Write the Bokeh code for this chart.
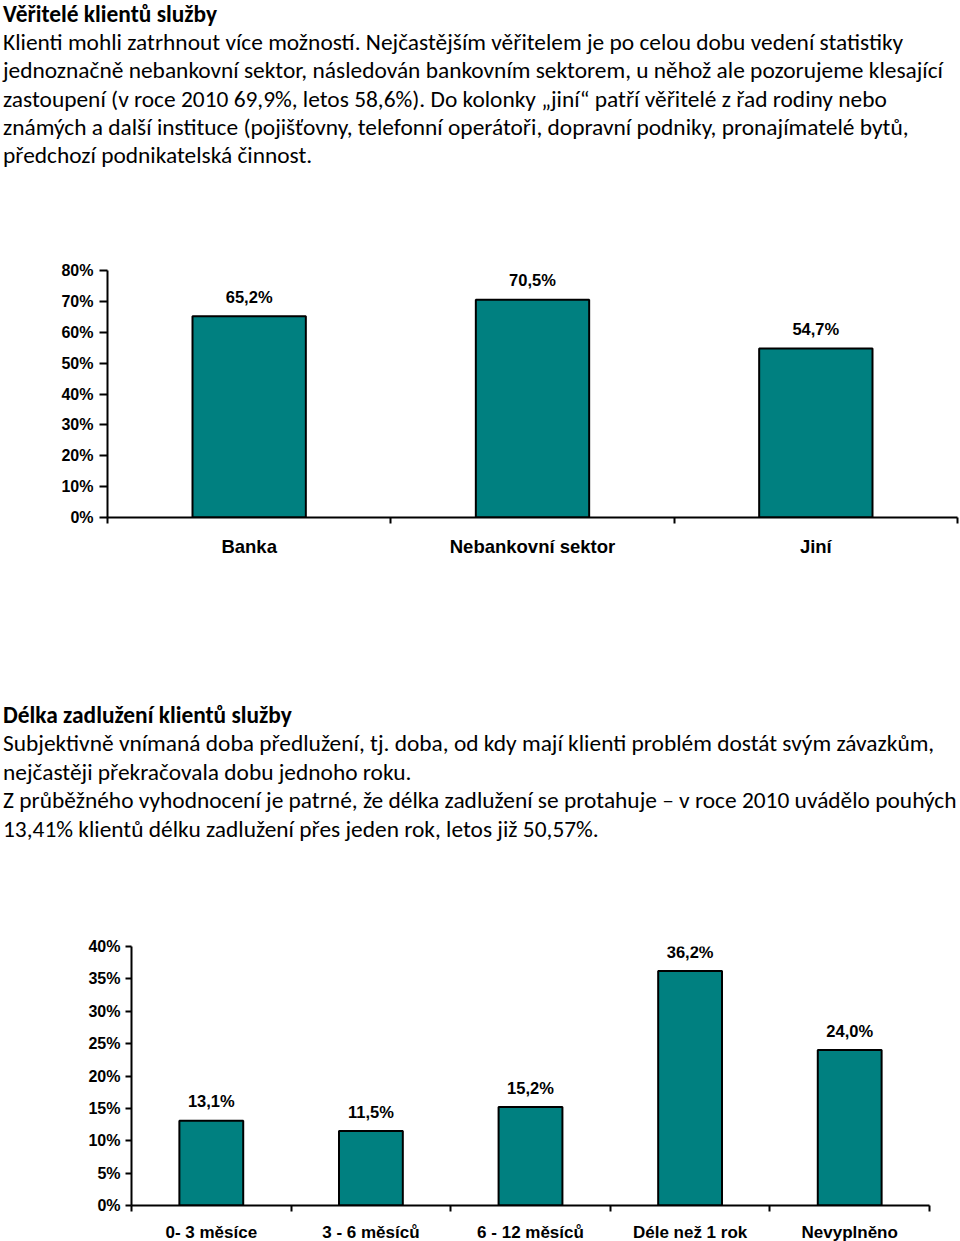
from bokeh.plotting import figure
from bokeh.models import (ColumnDataSource, LabelSet, FixedTicker,
                          PrintfTickFormatter, Range1d, Div, Spacer)
from bokeh.layouts import column, row
from bokeh.core.properties import value
from bokeh.embed import file_html
from bokeh.resources import INLINE

# ---------------- data ----------------
creditor_categories = ["Banka", "Nebankovní sektor", "Jiní"]
creditor_values = [65.2, 70.5, 54.7]
creditor_y_ticks = [0, 10, 20, 30, 40, 50, 60, 70, 80]

duration_categories = ["0- 3 měsíce", "3 - 6 měsíců", "6 - 12 měsíců",
                       "Déle než 1 rok", "Nevyplněno"]
duration_values = [13.1, 11.5, 15.2, 36.2, 24.0]
duration_y_ticks = [0, 5, 10, 15, 20, 25, 30, 35, 40]

title1 = "Věřitelé klientů služby"
para1 = [
    "Klienti mohli zatrhnout více možností. Nejčastějším věřitelem je po celou dobu vedení statistiky",
    "jednoznačně nebankovní sektor, následován bankovním sektorem, u něhož ale pozorujeme klesající",
    "zastoupení (v roce 2010 69,9%, letos 58,6%). Do kolonky „jiní“ patří věřitelé z řad rodiny nebo",
    "známých a další instituce (pojišťovny, telefonní operátoři, dopravní podniky, pronajímatelé bytů,",
    "předchozí podnikatelská činnost.",
]
title2 = "Délka zadlužení klientů služby"
para2 = [
    "Subjektivně vnímaná doba předlužení, tj. doba, od kdy mají klienti problém dostát svým závazkům,",
    "nejčastěji překračovala dobu jednoho roku.",
    "Z průběžného vyhodnocení je patrné, že délka zadlužení se protahuje – v roce 2010 uvádělo pouhých",
    "13,41% klientů délku zadlužení přes jeden rok, letos již 50,57%.",
]

TEAL = "#008080"
CHART_FONT = "Liberation Sans"
TEXT_FONT = "Carlito, Lato, sans-serif"


def text_block(title, lines, width, height, pad_top, title_lh, body_lh):
    body = "<br>".join(lines)
    html = (f'<div style="padding-top:{pad_top}px; padding-left:3px; '
            f'font-family:{TEXT_FONT}; font-size:23.4px; '
            f'color:#000; white-space:nowrap;">'
            f'<div style="line-height:{title_lh}px; font-weight:bold;">{title}</div>'
            f'<div style="line-height:{body_lh}px;">{body}</div></div>')
    return Div(text=html, width=width, height=height, margin=(0, 0, 0, 0))


def make_chart(categories, values, y_ticks, frame_w, frame_h, left, top,
               bottom, right, cat_font_size, cat_standoff, ytick_out,
               ylabel_standoff):
    n = len(categories)
    xs = [i + 0.5 for i in range(n)]
    labels = [f"{v:.1f}".replace(".", ",") + "%" for v in values]
    src = ColumnDataSource(dict(x=xs, top=values, label=labels))
    p = figure(frame_width=frame_w, frame_height=frame_h,
               x_range=Range1d(0, n), y_range=Range1d(y_ticks[0], y_ticks[-1]),
               output_backend="svg", toolbar_location=None,
               min_border_left=left, min_border_top=top,
               min_border_bottom=bottom, min_border_right=right)
    p.vbar(x="x", top="top", bottom=0, width=0.4, source=src,
           fill_color=TEAL, line_color="black", line_width=2)
    p.add_layout(LabelSet(x="x", y="top", text="label", source=src,
                          y_offset=19.5, text_align="center",
                          text_baseline="middle",
                          text_font=value(CHART_FONT),
                          text_font_style="bold", text_font_size="16.5px",
                          text_color="black"))
    p.xgrid.visible = False
    p.ygrid.visible = False
    p.outline_line_color = None
    p.background_fill_color = "white"
    p.border_fill_color = "white"

    ya = p.yaxis[0]
    ya.ticker = FixedTicker(ticks=y_ticks)
    ya.formatter = PrintfTickFormatter(format="%d%%")
    ya.axis_line_color = "black"
    ya.axis_line_width = 2
    ya.major_tick_in = 0
    ya.major_tick_out = ytick_out
    ya.major_tick_line_width = 2
    ya.major_tick_line_color = "black"
    ya.minor_tick_out = 0
    ya.minor_tick_in = 0
    ya.major_label_standoff = ylabel_standoff
    ya.major_label_text_font = CHART_FONT
    ya.major_label_text_font_style = "bold"
    ya.major_label_text_font_size = "16px"
    ya.major_label_text_color = "black"

    xa = p.xaxis[0]
    xa.ticker = FixedTicker(ticks=xs, minor_ticks=list(range(n + 1)))
    xa.major_label_overrides = {x: c for x, c in zip(xs, categories)}
    xa.axis_line_color = "black"
    xa.axis_line_width = 2
    xa.major_tick_in = 0
    xa.major_tick_out = 0
    xa.minor_tick_in = 0
    xa.minor_tick_out = 6
    xa.minor_tick_line_width = 2
    xa.minor_tick_line_color = "black"
    xa.major_label_standoff = cat_standoff
    xa.major_label_text_font = CHART_FONT
    xa.major_label_text_font_style = "bold"
    xa.major_label_text_font_size = cat_font_size
    xa.major_label_text_color = "black"
    return p


div1 = text_block(title1, para1, 960, 180, 0, 28.1, 28.3)
fig1 = make_chart(creditor_categories, creditor_values, creditor_y_ticks,
                  frame_w=850, frame_h=247, left=107, top=90, bottom=53, right=3,
                  cat_font_size="18.5px", cat_standoff=12, ytick_out=8,
                  ylabel_standoff=6)
div2 = text_block(title2, para2, 960, 310, 130.75, 28.5, 28.5)
fig2 = make_chart(duration_categories, duration_values, duration_y_ticks,
                  frame_w=798, frame_h=259, left=107, top=66, bottom=35, right=3,
                  cat_font_size="17px", cat_standoff=11, ytick_out=6,
                  ylabel_standoff=5)

p = column(div1, fig1, div2, row(Spacer(width=24, height=10), fig2))

open("out.html", "w").write(file_html(p, INLINE))
